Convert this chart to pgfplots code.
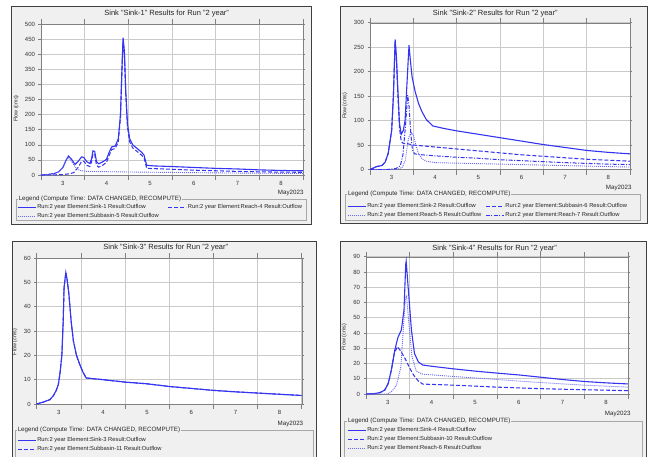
\documentclass[border=0pt]{standalone}
\usepackage{fontspec}
\setmainfont{Liberation Sans}
\usepackage{pgfplots}
\pgfplotsset{compat=1.18}
\definecolor{hmsblue}{HTML}{3434F2}
\definecolor{hmslight}{HTML}{6A6AF5}
\definecolor{bgc}{HTML}{F0F0F0}
\definecolor{gridc}{HTML}{CACACA}
\definecolor{axisc}{HTML}{808080}
\definecolor{framec}{HTML}{404040}
\definecolor{legc}{HTML}{A8A8A8}

\tikzset{
  s-solid/.style={color=hmsblue, line width=1.1pt},
  s-dash/.style={color=hmsblue, line width=1.05pt, dash pattern=on 4pt off 2pt},
  s-dot/.style={color=hmslight, line width=0.9pt, dash pattern=on 1pt off 1pt},
  s-dashdot/.style={color=hmsblue, line width=1.0pt, dash pattern=on 4pt off 1.5pt on 1pt off 1.5pt},
}
\pgfplotsset{
  hms/.style={
    scale only axis, anchor=south west,
    xmin=3, xmax=9, ymin=0,
    xtick={3,...,9}, xticklabels={3,4,5,6,7,8}, x tick label as interval,
    minor xtick={3,...,9}, minor tick length=5pt, major tick length=2.5pt,
    tick align=outside,
    xmajorgrids, ymajorgrids, grid style={gridc, line width=0.6pt},
    axis line style={axisc}, tick style={axisc, line width=0.6pt},
    axis background/.style={fill=white},
    tick label style={font=\fontsize{6}{7}\selectfont, text=black!80},
    /pgf/number format/assume math mode=true,
    ylabel={Flow (cms)}, xlabel={May2023},
    ylabel style={font=\fontsize{5.4}{6}\selectfont, anchor=center, text=black!85},
    xlabel style={font=\fontsize{6.2}{7}\selectfont, at={(axis description cs:1,0)}, anchor=north east, text=black!85},
    legend cell align=left,
    legend image code/.code={\draw[##1] (0pt,0pt) -- (18pt,0pt);},
    legend style={font=\fontsize{5.8}{7}\selectfont, draw=none, fill=none, inner sep=0pt,
      anchor=north west, at={(axis description cs:0,0)}, row sep=1.2pt,
      nodes={inner sep=1pt, text=black!85}},
  },
}

\begin{document}
\begin{tikzpicture}
\useasboundingbox (0pt,0pt) rectangle (649pt,-456pt);
\fill[white] (0pt,0pt) rectangle (649pt,-456pt);
% panel frames
\filldraw[fill=bgc, draw=framec, line width=0.8pt] (11.7pt,-6pt) rectangle (311.7pt,-224pt);
\filldraw[fill=bgc, draw=framec, line width=0.8pt] (340pt,-6pt) rectangle (647pt,-223pt);
\filldraw[fill=bgc, draw=framec, line width=0.8pt] (12pt,-241pt) rectangle (316.7pt,-470pt);
\filldraw[fill=bgc, draw=framec, line width=0.8pt] (340pt,-241pt) rectangle (646.7pt,-470pt);
% legend boxes
\draw[legc, line width=0.6pt] (16pt,-199pt) rectangle (306pt,-220pt);
\draw[legc, line width=0.6pt] (345pt,-194pt) rectangle (640pt,-220pt);
\draw[legc, line width=0.6pt] (15pt,-430pt) rectangle (313pt,-470pt);
\draw[legc, line width=0.6pt] (344pt,-421pt) rectangle (642pt,-470pt);

% ---------- Sink-1 ----------
\begin{axis}[hms, at={(41pt,-175pt)}, width=262pt, height=151pt,
  ymax=500, ytick={0,50,...,500},
  ylabel style={at={(axis description cs:-0.095,0.44)}},
  xlabel style={xshift=4pt, yshift=-11.5pt},
  legend columns=2,
  legend style={xshift=-24pt, yshift=-28.3pt,
    /tikz/every even column/.append style={column sep=8pt}},
]
\addplot[s-solid] coordinates {(3.0,0) (3.15,1.5) (3.3,5) (3.4,10) (3.5,25) (3.57,48) (3.63,63) (3.7,52) (3.78,35) (3.85,45) (3.93,60) (3.98,58) (4.05,44) (4.12,38) (4.16,55) (4.19,80) (4.23,78) (4.27,45) (4.32,37) (4.42,44) (4.5,52) (4.56,75) (4.62,93) (4.7,96) (4.77,120) (4.82,200) (4.86,380) (4.88,455) (4.91,410) (4.94,280) (4.98,170) (5.03,120) (5.1,100) (5.2,88) (5.3,76) (5.36,66) (5.42,32) (5.6,30) (6,28) (6.5,25) (7,22) (7.5,20) (8,17) (8.5,15) (9,14)};
\addplot[s-dash] coordinates {(3.0,0) (3.3,0.5) (3.5,1.5) (3.65,4) (3.75,8) (3.85,25) (3.93,45) (3.98,46) (4.05,32) (4.12,28) (4.16,45) (4.19,70) (4.23,68) (4.27,33) (4.32,26) (4.42,33) (4.5,42) (4.56,65) (4.62,84) (4.7,88) (4.77,110) (4.82,190) (4.86,370) (4.88,440) (4.91,400) (4.94,270) (4.98,160) (5.03,110) (5.1,90) (5.2,78) (5.3,66) (5.36,58) (5.42,22) (5.6,21) (6,19) (6.5,16) (7,14) (7.5,12) (8,10.5) (8.5,9.5) (9,9)};
\addplot[s-dot] coordinates {(3.0,0) (3.15,1.5) (3.3,5) (3.4,10) (3.5,24) (3.57,45) (3.63,59) (3.7,45) (3.78,27) (3.85,18) (3.93,14) (4.05,12) (4.5,11) (5,10) (6,8.5) (7,7) (8,6) (9,5)};
\legend{Run:2 year Element:Sink-1 Result:Outflow, Run:2 year Element:Reach-4 Result:Outflow, Run:2 year Element:Subbasin-5 Result:Outflow}
\end{axis}

% ---------- Sink-2 ----------
\begin{axis}[hms, at={(370pt,-169.5pt)}, width=260pt, height=146.8pt,
  ymax=300, ytick={0,50,...,300},
  ylabel style={at={(axis description cs:-0.096,0.434)}},
  xlabel style={xshift=5pt, yshift=-12.5pt},
  legend columns=2,
  legend style={xshift=-23pt, yshift=-32.8pt,
    /tikz/every even column/.append style={column sep=3pt}},
]
\addplot[s-solid] coordinates {(3.0,0) (3.08,3) (3.15,6) (3.27,8) (3.35,15) (3.42,33) (3.5,80) (3.54,150) (3.58,266) (3.61,230) (3.64,169) (3.68,95) (3.72,72) (3.77,80) (3.81,101) (3.85,170) (3.9,254) (3.93,225) (3.97,190) (4.04,160) (4.12,135) (4.2,118) (4.3,102) (4.45,89) (4.7,84) (5,79) (5.5,72) (6,65) (6.5,58) (7,51) (7.5,45) (8,39) (8.5,35) (9,32)};
\addplot[s-dash] coordinates {(3.0,0) (3.08,3) (3.15,6) (3.27,8) (3.35,15) (3.42,33) (3.5,80) (3.54,150) (3.58,262) (3.61,225) (3.64,160) (3.68,85) (3.72,58) (3.77,53) (3.85,53) (4,50) (4.5,46) (5,42) (5.5,38) (6,34) (6.5,30) (7,27) (7.5,24) (8,21) (8.5,19) (9,17)};
\addplot[s-dot] coordinates {(3.0,0) (3.5,0) (3.65,1) (3.75,5) (3.82,20) (3.87,55) (3.91,70) (3.96,75) (4.0,70) (4.06,50) (4.12,32) (4.2,22) (4.3,17) (4.5,14) (5,13) (6,11) (7,9) (8,7) (9,5)};
\addplot[s-dashdot] coordinates {(3.0,0) (3.4,0) (3.6,2) (3.7,8) (3.76,30) (3.82,90) (3.87,152) (3.9,130) (3.94,75) (3.98,40) (4.03,32) (4.2,30) (4.5,28) (5,25) (5.5,23) (6,20) (6.5,18) (7,16) (7.5,14) (8,12.5) (8.5,11) (9,10)};
\legend{Run:2 year Element:Sink-2 Result:Outflow, Run:2 year Element:Subbasin-6 Result:Outflow, Run:2 year Element:Reach-5 Result:Outflow, Run:2 year Element:Reach-7 Result:Outflow}
\end{axis}

% ---------- Sink-3 ----------
\begin{axis}[hms, at={(36.7pt,-404pt)}, width=265pt, height=146pt,
  ymax=60, ytick={0,10,...,60},
  ylabel style={at={(axis description cs:-0.082,0.425)}},
  xlabel style={xshift=5pt, yshift=-13.5pt},
  legend style={xshift=-19.7pt, yshift=-32.3pt},
]
\addplot[s-solid] coordinates {(3.0,0) (3.15,0.8) (3.3,1.8) (3.38,3.5) (3.44,5.5) (3.49,8) (3.53,13) (3.57,20) (3.6,34) (3.62,48) (3.66,54) (3.69,51) (3.73,45) (3.78,34) (3.83,26) (3.9,20) (3.98,16) (4.05,13) (4.12,10.7) (4.5,10) (5,9) (5.5,8.3) (6,7.2) (6.5,6.4) (7,5.6) (7.5,5) (8,4.5) (8.5,4) (9,3.5)};
\addplot[s-dash] coordinates {(3.0,0) (3.15,0.8) (3.3,1.8) (3.38,3.5) (3.44,5.5) (3.49,8) (3.53,13) (3.57,20) (3.6,34) (3.62,48) (3.66,54) (3.69,51) (3.73,45) (3.78,34) (3.83,26) (3.9,20) (3.98,16) (4.05,13) (4.12,10.7) (4.5,10) (5,9) (5.5,8.3) (6,7.2) (6.5,6.4) (7,5.6) (7.5,5) (8,4.5) (8.5,4) (9,3.5)};
\legend{Run:2 year Element:Sink-3 Result:Outflow, Run:2 year Element:Subbasin-11 Result:Outflow}
\end{axis}

% ---------- Sink-4 ----------
\begin{axis}[hms, at={(366pt,-394pt)}, width=262pt, height=137.3pt,
  ymax=90, ytick={0,10,...,90},
  ylabel style={at={(axis description cs:-0.083,0.414)}},
  xlabel style={xshift=6pt, yshift=-13.5pt},
  legend style={xshift=-19pt, yshift=-32.3pt},
]
\addplot[s-solid] coordinates {(3.0,0) (3.2,0.3) (3.32,0.9) (3.43,2.6) (3.51,7) (3.58,15.7) (3.66,28.8) (3.73,37) (3.81,42) (3.87,55) (3.91,85) (3.92,87) (3.96,72) (4.04,42) (4.11,26.6) (4.2,21) (4.3,19) (4.5,18.2) (5,16.5) (5.5,15) (6,13.7) (6.5,12.5) (7,11) (7.5,9.5) (8,8.2) (8.5,7.3) (9,6.6)};
\addplot[s-dash] coordinates {(3.0,0) (3.2,0.3) (3.32,0.9) (3.43,2.6) (3.51,7) (3.58,15.5) (3.65,27) (3.72,31) (3.8,28) (3.9,23) (4.0,17) (4.1,12) (4.2,8.5) (4.3,6.5) (5,5.8) (6,4.5) (7,3.5) (8,2.8) (9,2.2)};
\addplot[s-dot] coordinates {(3.0,0) (3.5,0) (3.6,2) (3.7,6) (3.8,18) (3.86,45) (3.9,62) (3.93,64) (3.97,50) (4.05,25) (4.15,15) (4.3,13) (5,11.5) (6,9.5) (7,7.5) (8,5.8) (9,4.5)};
\legend{Run:2 year Element:Sink-4 Result:Outflow, Run:2 year Element:Subbasin-10 Result:Outflow, Run:2 year Element:Reach-6 Result:Outflow}
\end{axis}

% titles
\node[font=\fontsize{7.5}{9}\selectfont, text=black!85] at (166.7pt,-14pt) {Sink "Sink-1" Results for Run "2 year"};
\node[font=\fontsize{7.5}{9}\selectfont, text=black!85] at (495.3pt,-14pt) {Sink "Sink-2" Results for Run "2 year"};
\node[font=\fontsize{7.5}{9}\selectfont, text=black!85] at (165.8pt,-248pt) {Sink "Sink-3" Results for Run "2 year"};
\node[font=\fontsize{7.5}{9}\selectfont, text=black!85] at (494.7pt,-248.7pt) {Sink "Sink-4" Results for Run "2 year"};
% legend titles
\node[font=\fontsize{6.2}{7}\selectfont, fill=bgc, inner xsep=0.8pt, inner ysep=0.5pt, anchor=west, text=black!85] at (17.8pt,-199.3pt) {Legend (Compute Time: DATA CHANGED, RECOMPUTE)};
\node[font=\fontsize{6.2}{7}\selectfont, fill=bgc, inner xsep=0.8pt, inner ysep=0.5pt, anchor=west, text=black!85] at (347pt,-194.3pt) {Legend (Compute Time: DATA CHANGED, RECOMPUTE)};
\node[font=\fontsize{6.2}{7}\selectfont, fill=bgc, inner xsep=0.8pt, inner ysep=0.5pt, anchor=west, text=black!85] at (16.8pt,-429.7pt) {Legend (Compute Time: DATA CHANGED, RECOMPUTE)};
\node[font=\fontsize{6.2}{7}\selectfont, fill=bgc, inner xsep=0.8pt, inner ysep=0.5pt, anchor=west, text=black!85] at (347pt,-420.7pt) {Legend (Compute Time: DATA CHANGED, RECOMPUTE)};
\end{tikzpicture}
\end{document}
